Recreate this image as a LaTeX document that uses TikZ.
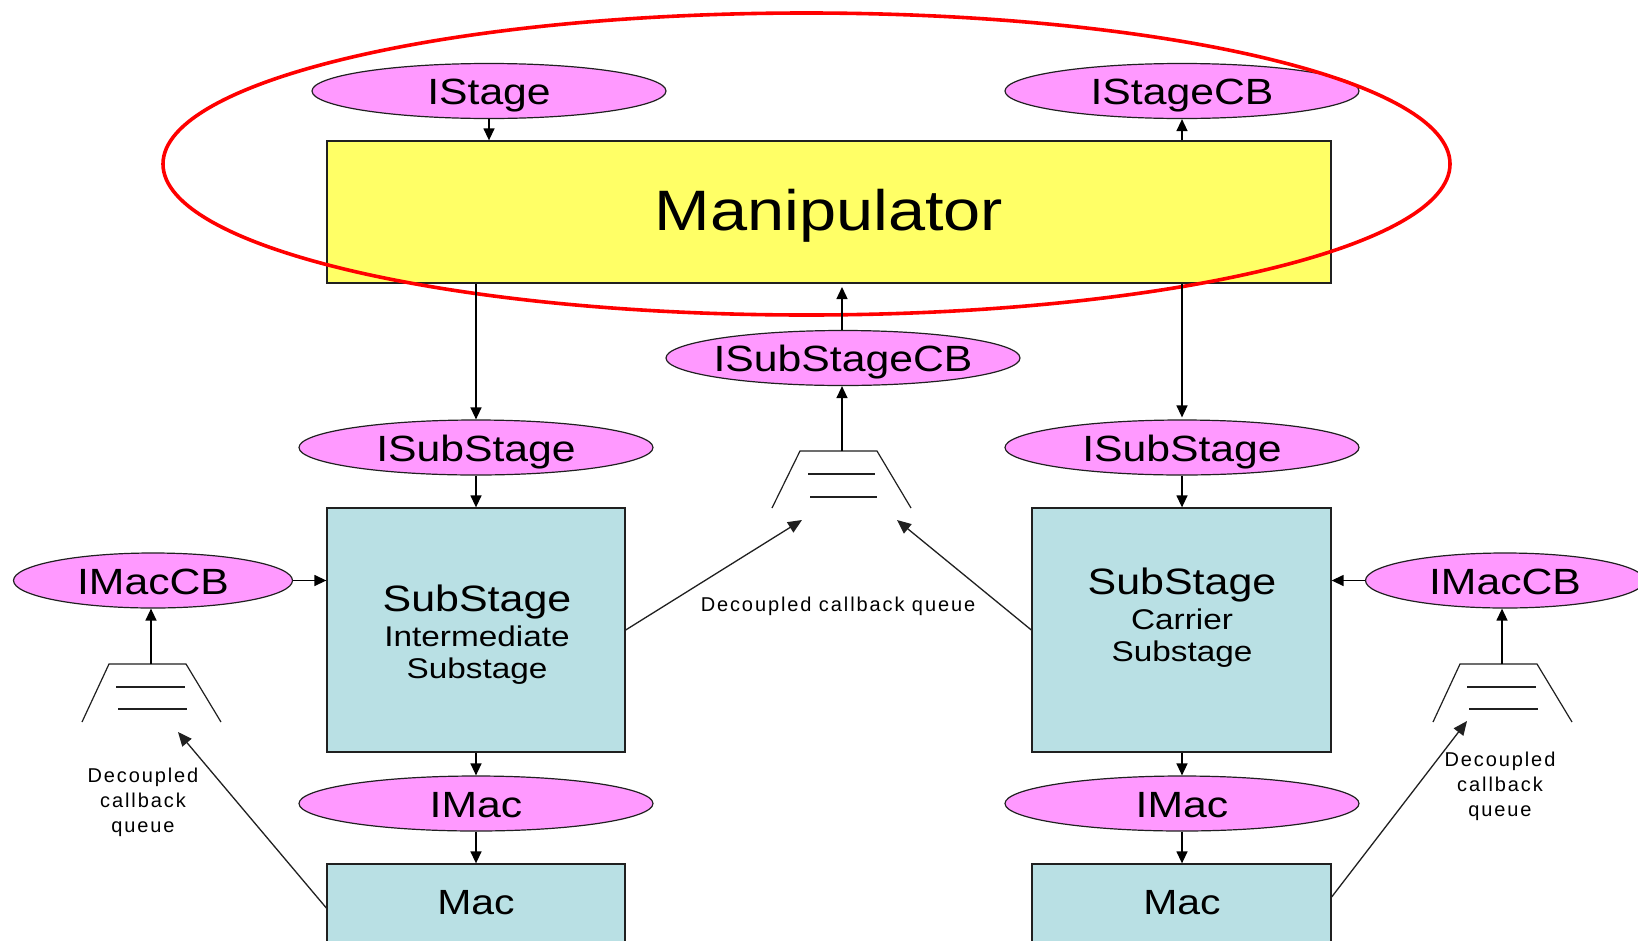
\documentclass[tikz,border=0pt]{standalone}
\usepackage{fontspec}
\setmainfont[FakeStretch=1.17]{Liberation Sans}
\newfontfamily\smallf[LetterSpace=9.5]{Liberation Sans}
\usetikzlibrary{arrows.meta,shapes.geometric}
\definecolor{pinkfill}{HTML}{FF99FF}
\definecolor{yellowfill}{HTML}{FFFF66}
\definecolor{tealfill}{HTML}{B9E0E4}
\definecolor{lineink}{HTML}{202020}
\newcommand{\fs}[1]{\fontsize{#1}{#1}\selectfont}
\tikzset{
  x=1pt,y=-1pt,
  iface/.style={ellipse,draw=lineink,line width=1.2pt,fill=pinkfill,minimum width=354pt,minimum height=55pt,inner xsep=-40pt,inner ysep=0pt,text=black,font=\fs{36.5},text height=27pt,text depth=0pt},
  ifacecb/.style={iface,minimum width=279pt},
  block/.style={rectangle,draw=lineink,line width=1.3pt,fill=tealfill,inner sep=0pt},
  label/.style={inner sep=0pt,text=black,align=center},
  smalltxt/.style={inner sep=0pt,text=black,align=center,font=\smallf\fs{20}},
  conn/.style={draw=black,line width=1.4pt,-{Triangle[length=12pt,width=11pt]}},
  longconn/.style={draw=lineink,line width=1.3pt,-{Triangle[length=14pt,width=12pt]}},
  qline/.style={draw=lineink,line width=1.2pt},
}
\begin{document}
\begin{tikzpicture}
\useasboundingbox (0,0) rectangle (1638,940);
\clip (0,0) rectangle (1638,940);
\fill[white] (0,0) rectangle (1638,940);

% main blocks
\node[block,fill=yellowfill,minimum width=1004pt,minimum height=142pt] (manip) at (829,212) {};
\node[label,font=\fs{57}] (maniptext) at (829,216) {Manipulator};
\node[block,minimum width=298pt,minimum height=244pt] (subL) at (476,630) {};
\node[block,minimum width=299pt,minimum height=244pt] (subR) at (1181.5,630) {};
\node[block,minimum width=298pt,minimum height=100pt] (macL) at (476,914) {};
\node[block,minimum width=299pt,minimum height=100pt] (macR) at (1181.5,914) {};

% block texts
\node[label,font=\fs{36.7}] (subLa) at (477,602) {SubStage};
\node[label,font=\fs{28.5}] (subLb) at (477,636) {Intermediate};
\node[label,font=\fs{28.5}] (subLc) at (477,671) {Substage};
\node[label,font=\fs{36.7}] (subRa) at (1182,585) {SubStage};
\node[label,font=\fs{28.5}] (subRb) at (1182,619) {Carrier};
\node[label,font=\fs{28.5}] (subRc) at (1182,654) {Substage};
\node[label,font=\fs{35}] (macLa) at (476,903) {Mac};
\node[label,font=\fs{35}] (macRa) at (1182,903) {Mac};

% interfaces
\node[iface] (istage) at (489,91) {IStage};
\node[iface] (istagecb) at (1182,91) {IStageCB};
\node[iface] (isubcb) at (843,358) {ISubStageCB};
\node[iface] (isubL) at (476,447.5) {ISubStage};
\node[iface] (isubR) at (1182,447.5) {ISubStage};
\node[iface] (imacL) at (476,803.5) {IMac};
\node[iface] (imacR) at (1182,803.5) {IMac};
\node[ifacecb] (imcbL) at (153,580.5) {IMacCB};
\node[ifacecb] (imcbR) at (1505,580.5) {IMacCB};

% red outline
\node[ellipse,draw=red,line width=3.6pt,minimum width=1287pt,minimum height=302pt,inner sep=0pt] (focus) at (806.5,164) {};

% queues
\draw[qline] (772,508) -- (800,451) -- (877,451) -- (911,508);
\draw[qline] (808,474) -- (875,474);
\draw[qline] (810,497) -- (877,497);
\coordinate (qMtop) at (842,451);
\coordinate (qMinL) at (802,520);
\coordinate (qMinR) at (897,520);

\draw[qline] (82,722) -- (109,664) -- (186,664) -- (221,722);
\draw[qline] (116,687) -- (185,687);
\draw[qline] (118,709) -- (187,709);
\coordinate (qLtop) at (151,664);
\coordinate (qLin) at (178,732);

\draw[qline] (1433,722) -- (1460,664) -- (1537,664) -- (1572,722);
\draw[qline] (1467,687) -- (1536,687);
\draw[qline] (1469,709) -- (1538,709);
\coordinate (qRtop) at (1502,664);
\coordinate (qRin) at (1467,721);

% queue labels
\node[smalltxt] (lblM) at (838,606) {Decoupled callback queue};
\node[smalltxt] (lblL) at (143,802) {Decoupled\\[5pt]callback\\[5pt]queue};
\node[smalltxt] (lblR) at (1500,786) {Decoupled\\[5pt]callback\\[5pt]queue};

% connectors
\draw[conn] (istage.south) -- (manip.north -| istage.south);
\draw[conn] (manip.north -| istagecb.south) -- (istagecb.south);
\coordinate (manipgap) at (842,287);
\draw[conn] (isubcb.north -| manipgap) -- (manipgap);
\draw[conn] (qMtop) -- (isubcb.south -| qMtop);
\draw[conn] (manip.south -| isubL.north) -- (isubL.north);
\draw[conn] (manip.south -| isubR.north) -- ([yshift=2pt]isubR.north);
\draw[conn] (isubL.south) -- (subL.north -| isubL.south);
\draw[conn] (isubR.south) -- (subR.north -| isubR.south);
\draw[conn] (subL.south -| imacL.north) -- (imacL.north);
\draw[conn] (subR.south -| imacR.north) -- (imacR.north);
\draw[conn] (imacL.south) -- (macL.north -| imacL.south);
\draw[conn] (imacR.south) -- (macR.north -| imacR.south);
\draw[conn] (imcbL.east) -- (subL.west |- imcbL.east);
\draw[conn] (imcbR.west) -- (subR.east |- imcbR.west);
\draw[conn] (qLtop) -- (imcbL.south -| qLtop);
\draw[conn] (qRtop) -- (imcbR.south -| qRtop);
\draw[longconn] (subL.east) -- (qMinL);
\draw[longconn] (subR.west) -- (qMinR);
\draw[longconn] (macL.west) ++(0,-6) -- (qLin);
\draw[longconn] (macR.east) ++(0,-17) -- (qRin);
\end{tikzpicture}
\end{document}
